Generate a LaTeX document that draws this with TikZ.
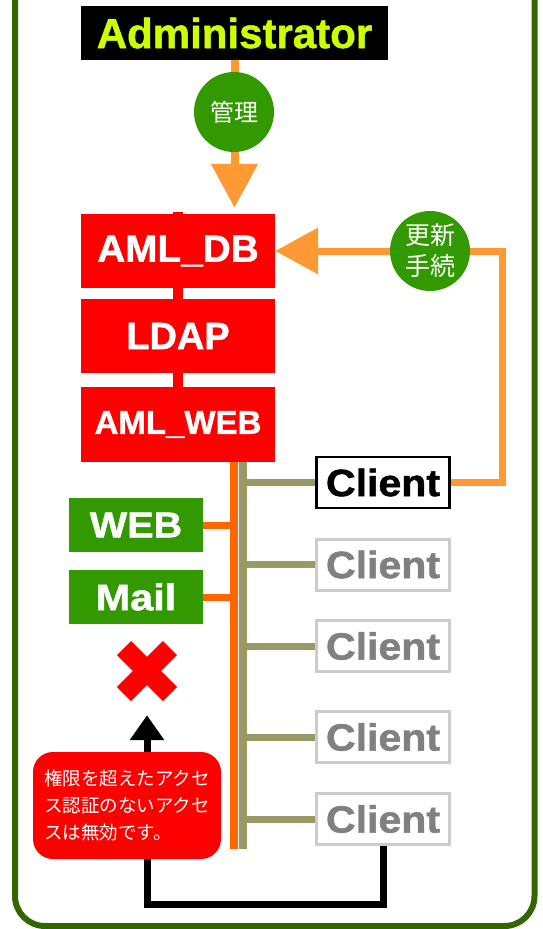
\documentclass[tikz,border=0pt]{standalone}
\usepackage{fontspec}
\usepackage{graphicx}
\setmainfont{Liberation Sans}[BoldFeatures={FakeBold=1.2}]
\newfontfamily\cjk{Noto Sans CJK JP}
\usetikzlibrary{arrows.meta,calc,backgrounds}

\definecolor{framegreen}{HTML}{336600}
\definecolor{leafgreen}{HTML}{339900}
\definecolor{lime}{HTML}{CCFF00}
\definecolor{softorange}{HTML}{FF9933}
\definecolor{busorange}{HTML}{FF6600}
\definecolor{olive}{HTML}{999966}
\definecolor{paleframe}{HTML}{CCCCCC}
\definecolor{greytext}{HTML}{808080}

\newcommand\widen[2]{\scalebox{#1}[1]{#2}}

\begin{document}
\begin{tikzpicture}[x=1pt,y=-1pt,
  adminbox/.style={fill=black, text=lime, minimum width=307pt, minimum height=54pt,
    inner sep=0pt, font=\bfseries\fontsize{42}{44}\selectfont},
  serverbox/.style={fill=red, text=white, minimum width=194pt, minimum height=74pt,
    inner sep=0pt},
  servicebox/.style={fill=leafgreen, text=white, minimum width=134pt, minimum height=54pt,
    inner sep=0pt, font=\bfseries\fontsize{36}{38}\selectfont},
  clientbox/.style={draw=paleframe, line width=3pt, fill=white, text=greytext,
    minimum width=133pt, minimum height=51pt, inner sep=0pt,
    font=\bfseries\fontsize{38}{40}\selectfont},
  activeclient/.style={clientbox, draw=black, line width=2.5pt, text=black},
  labelcircle/.style={circle, fill=leafgreen, text=white, minimum size=80pt, inner sep=0pt,
    align=center},
  bigtip/.style={-{Triangle[length=44pt,width=45pt]}},
  notebox/.style={fill=red, text=white, rounded corners=20pt, minimum width=188pt,
    minimum height=107pt, align=left, inner sep=0pt,
    font=\cjk\fontsize{18.5}{26.7}\selectfont},
]
\useasboundingbox (0,0) rectangle (542,929);
\clip (0,0) rectangle (542,929);

% nodes
\node[adminbox] (admin) at (234.5,33) {Administrator};

\node[serverbox, font=\bfseries\fontsize{38}{40}\selectfont] (db) at (178,251) {\widen{1.02}{AML\_DB}};
\node[serverbox, font=\bfseries\fontsize{38}{40}\selectfont] (ldap) at (178,336) {LDAP};
\node[serverbox, minimum height=75pt, font=\bfseries\fontsize{33}{35}\selectfont] (amlweb) at (178,424.5) {AML\_WEB};

\node[servicebox] (web) at (136,525) {\widen{1.1}{WEB}};
\node[servicebox, font=\bfseries\fontsize{37}{39}\selectfont] (mail) at (136,597) {\widen{1.12}{Mail}};

\node[activeclient] (c1) at (383,482.5) {\widen{1.08}{Client}};
\node[clientbox] (c2) at (383,564.5) {\widen{1.08}{Client}};
\node[clientbox] (c3) at (383,646) {\widen{1.08}{Client}};
\node[clientbox] (c4) at (383,737) {\widen{1.08}{Client}};
\node[clientbox] (c5) at (383,819) {\widen{1.08}{Client}};

\node[minimum size=60pt, inner sep=0pt] (xm) at (147,671) {};

\begin{scope}[on background layer]
  % outer frame, open at the top
  \draw[framegreen, line width=6pt, rounded corners=30pt] (15,-40) rectangle (534.5,926);
  % links between the server boxes
  \draw[red, line width=10pt] ($(db.north)+(0,-1.5)$) -- (amlweb.north);
\end{scope}

% network buses
\coordinate (ob1) at (234,462);
\coordinate (ob2) at (234,849);
\coordinate (gb1) at (243,462);
\coordinate (gb2) at (243,849);
\draw[busorange, line width=8pt] (ob1) -- (ob2);
\draw[olive, line width=8pt] (gb1) -- (gb2);
\draw[busorange, line width=7pt] (web.east) -- (web.east -| ob1);
\draw[busorange, line width=7pt] (mail.east) -- (mail.east -| ob1);
\foreach \c in {c1,c2,c3,c4,c5}
  \draw[olive, line width=7pt] (\c.west) -- (\c.west -| gb1);

% administration arrow
\draw[softorange, line width=8pt, bigtip, shorten >=6pt] (admin.south) -- (admin.south |- db.north);
\node[labelcircle, font=\cjk\fontsize{24}{28}\selectfont] (kanri) at (234,112) {管理};

% renewal arrow from the active client back to the database
\coordinate (turn) at (502,251);
\draw[softorange, line width=7pt, line join=miter, -{Triangle[length=43pt,width=45pt]}]
  (c1.east) -| (turn) -- (db.east);
\node[labelcircle, font=\cjk\fontsize{25}{31}\selectfont] (renew) at (430,251) {更新\\手続};

% rejected access
\coordinate (low) at (147,904.5);
\draw[black, line width=7pt, line join=miter, -{Triangle[length=25pt,width=33pt]}, shorten >=14pt]
  (c5.south) |- (low) -- (xm.south);
\draw[red, line width=20pt] ($(xm.center)+(-23,-23)$) -- ($(xm.center)+(23,23)$);
\draw[red, line width=20pt] ($(xm.center)+(-23,23)$) -- ($(xm.center)+(23,-23)$);

\node[notebox] (note) at (127,805.5) {権限を超えたアクセ\\ス認証のないアクセ\\スは無効です。};
\end{tikzpicture}
\end{document}
